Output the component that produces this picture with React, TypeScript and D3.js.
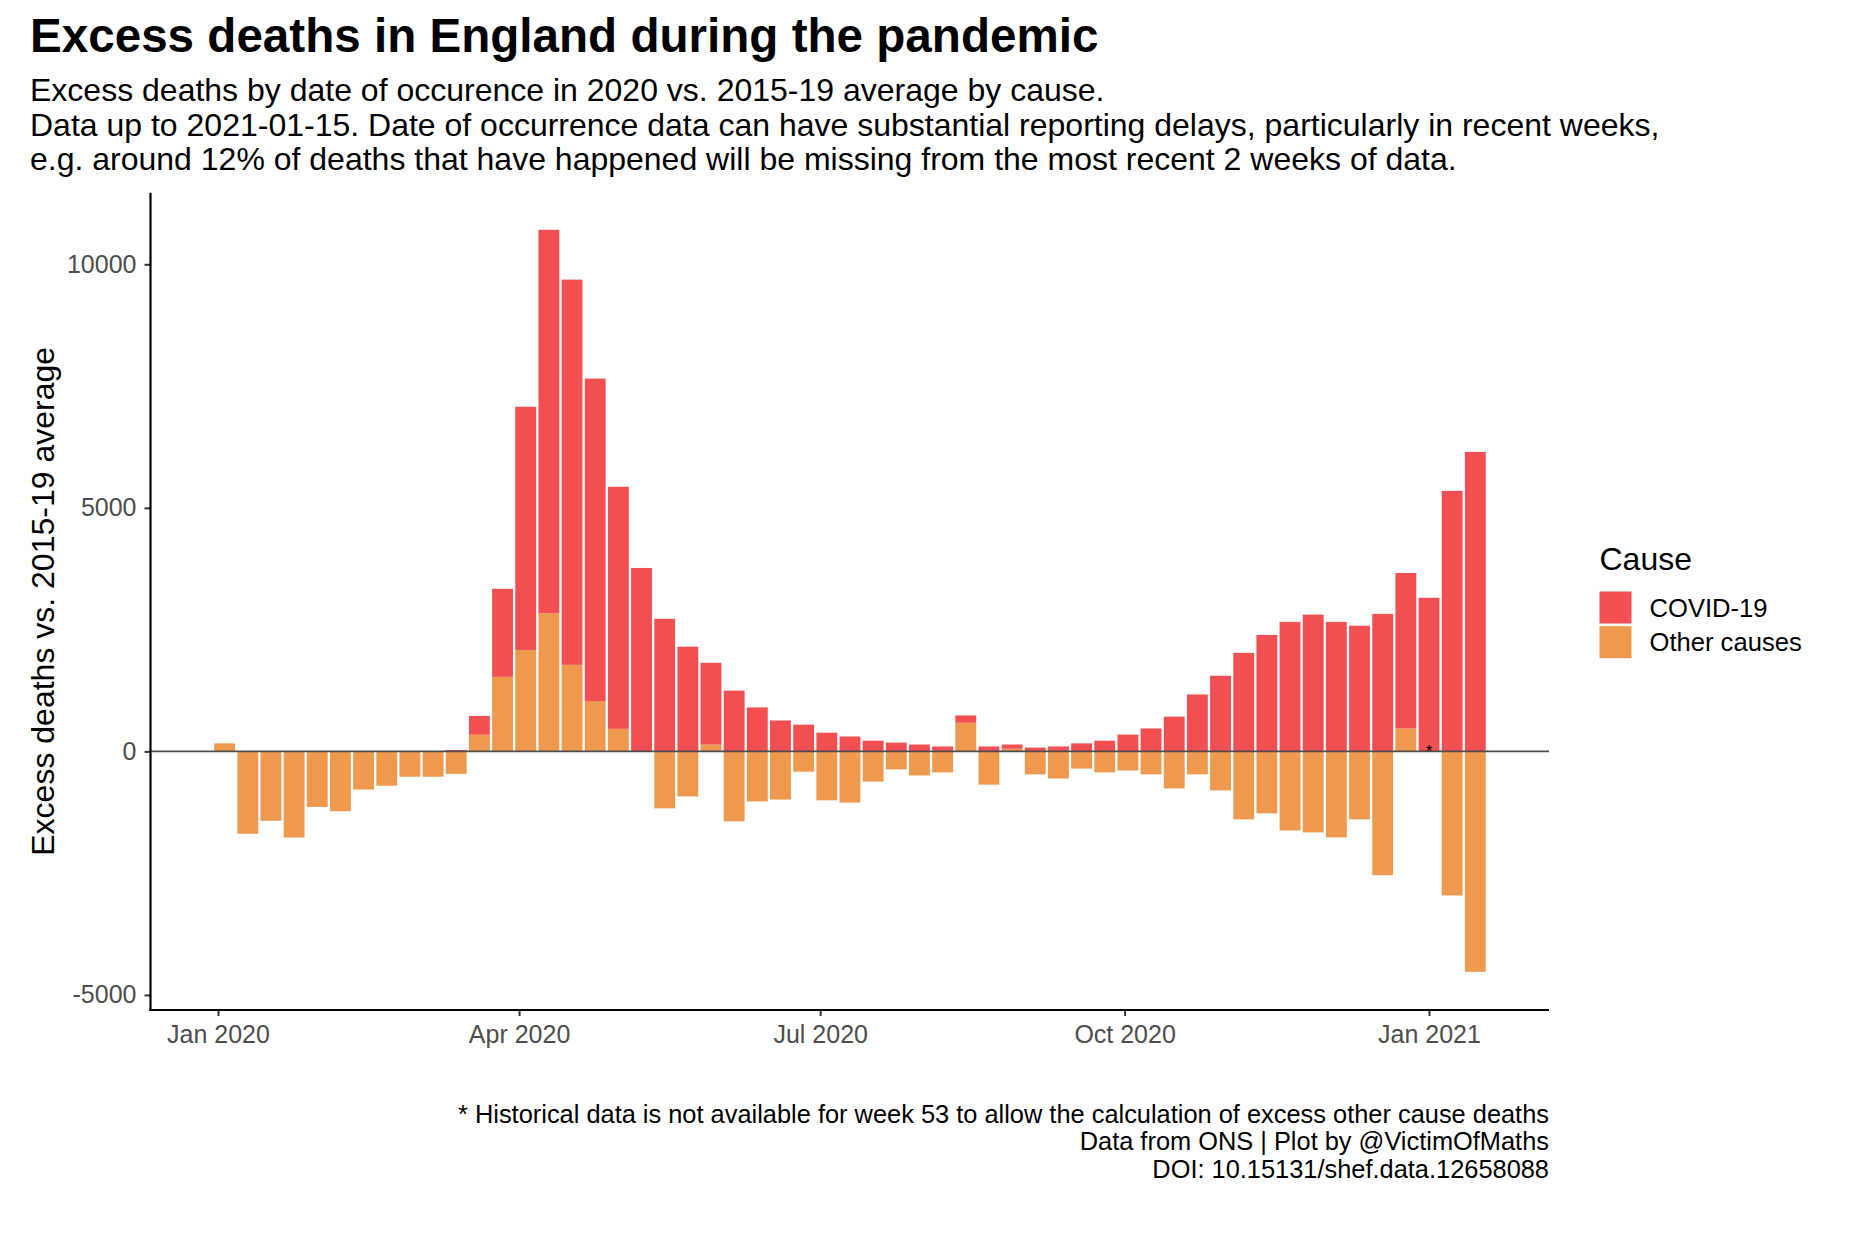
import { useEffect, useRef } from "react";
import * as d3 from "d3";

// excess deaths by week (week ending Fridays, first week ending 2020-01-03)
const causes = ["Other causes", "COVID-19"];
const otherCauses: (number | null)[] = [
  165, -1690, -1425, -1768, -1140, -1228, -783, -704, -520, -520, -460, 342,
  1530, 2083, 2838, 1777, 1035, 463, 0, -1169, -925, 141, -1435, -1027, -988,
  -416, -1004, -1051, -620, -369, -494, -431, 588, -682, 55, -471, -557, -353,
  -431, -392, -471, -761, -471, -800, -1396, -1271, -1624, -1663, -1765, -1396,
  -2541, 471, null, -2957, -4525,
];
const covid: number[] = [
  0, 0, 0, 0, 0, 0, 0, 0, 0, 0, 30, 385, 1808, 4992, 7870, 7909, 6619, 4970,
  3766, 2722, 2149, 1679, 1247, 902, 635, 549, 384, 306, 220, 180, 141, 102,
  149, 102, 86, 78, 102, 165, 220, 345, 471, 714, 1169, 1553, 2024, 2392, 2659,
  2808, 2659, 2580, 2824, 3192, 3153, 5349, 6149,
];
const firstWeekEnd = "2020-01-03";
const yTicks = [-5000, 0, 5000, 10000];
const xTickDates = ["2020-01-01", "2020-04-01", "2020-07-01", "2020-10-01", "2021-01-01"];

const titleText = "Excess deaths in England during the pandemic";
const subtitleLines = [
  "Excess deaths by date of occurence in 2020 vs. 2015-19 average by cause.",
  "Data up to 2021-01-15. Date of occurrence data can have substantial reporting delays, particularly in recent weeks,",
  "e.g. around 12% of deaths that have happened will be missing from the most recent 2 weeks of data.",
];
const captionLines = [
  "* Historical data is not available for week 53 to allow the calculation of excess other cause deaths",
  "Data from ONS | Plot by @VictimOfMaths",
  "DOI: 10.15131/shef.data.12658088",
];

const colours: Record<string, string> = {
  "COVID-19": "#f14f52",
  "Other causes": "#ef994e",
};

export default function App() {
  const svgRef = useRef<SVGSVGElement | null>(null);
  const width = 1876;
  const height = 1250;
  const panel = { left: 150.5, right: 1549, top: 192.7, bottom: 1010 };

  useEffect(() => {
    if (!svgRef.current) return;
    const svg = d3.select(svgRef.current);
    svg.selectAll("*").remove();
    const font = "'Liberation Sans', Arial, Helvetica, sans-serif";
    const parse = d3.timeParse("%Y-%m-%d");
    const start = parse(firstWeekEnd) as Date;

    const rows = covid.map((c, i) => ({
      date: d3.timeDay.offset(start, 7 * i),
      "COVID-19": c,
      "Other causes": otherCauses[i] ?? 0,
      missing: otherCauses[i] === null,
    }));

    // x: time scale, y: linear
    const x = d3
      .scaleTime()
      .domain([parse("2020-01-01") as Date, parse("2021-01-01") as Date])
      .range([218, 1429]);
    const y = d3
      .scaleLinear()
      .domain([-5309, 11470])
      .range([panel.bottom, panel.top]);
    const barW = (x(d3.timeDay.offset(start, 7)) - x(start)) * 0.9;

    const series = d3
      .stack<any>()
      .keys(causes)
      .offset(d3.stackOffsetDiverging)(rows);

    // bars
    svg
      .append("g")
      .selectAll("g")
      .data(series)
      .join("g")
      .attr("fill", (s) => colours[s.key])
      .selectAll("rect")
      .data((s) => s)
      .join("rect")
      .attr("x", (d) => x(d.data.date) - barW / 2)
      .attr("y", (d) => y(Math.max(d[0], d[1])))
      .attr("width", barW)
      .attr("height", (d) => Math.abs(y(d[0]) - y(d[1])));

    // zero line
    svg
      .append("line")
      .attr("x1", panel.left)
      .attr("x2", panel.right)
      .attr("y1", y(0))
      .attr("y2", y(0))
      .attr("stroke", "#4d4d4d")
      .attr("stroke-width", 1.8);

    // week 53 marker
    svg
      .append("g")
      .selectAll("text")
      .data(rows.filter((r) => r.missing))
      .join("text")
      .attr("x", (d) => x(d.date))
      .attr("y", y(0) + 6)
      .attr("text-anchor", "middle")
      .attr("font-family", font)
      .attr("font-size", 16)
      .text("*");

    // y axis
    const yAxis = svg
      .append("g")
      .attr("transform", `translate(${panel.left},0)`)
      .call(
        d3
          .axisLeft(y)
          .tickValues(yTicks)
          .tickFormat((d) => String(d))
          .tickSize(6)
          .tickPadding(8)
      );
    yAxis.select(".domain").remove();
    yAxis.selectAll(".tick line").attr("stroke", "#333333").attr("stroke-width", 2);
    yAxis
      .selectAll(".tick text")
      .attr("font-family", font)
      .attr("font-size", 25)
      .attr("fill", "#4d4d4d");
    svg
      .append("line")
      .attr("x1", panel.left)
      .attr("x2", panel.left)
      .attr("y1", panel.top)
      .attr("y2", panel.bottom + 1.1)
      .attr("stroke", "#000")
      .attr("stroke-width", 2.2);

    // x axis
    const xAxis = svg
      .append("g")
      .attr("transform", `translate(0,${panel.bottom})`)
      .call(
        d3
          .axisBottom(x)
          .tickValues(xTickDates.map((s) => parse(s) as Date))
          .tickFormat(d3.timeFormat("%b %Y") as any)
          .tickSize(6)
          .tickPadding(9)
      );
    xAxis.select(".domain").remove();
    xAxis.selectAll(".tick line").attr("stroke", "#333333").attr("stroke-width", 2);
    xAxis
      .selectAll(".tick text")
      .attr("font-family", font)
      .attr("font-size", 25)
      .attr("fill", "#4d4d4d");
    svg
      .append("line")
      .attr("x1", panel.left - 1.1)
      .attr("x2", panel.right)
      .attr("y1", panel.bottom)
      .attr("y2", panel.bottom)
      .attr("stroke", "#000")
      .attr("stroke-width", 2.2);

    // y axis title
    svg
      .append("text")
      .attr("transform", `translate(54,${(panel.top + panel.bottom) / 2}) rotate(-90)`)
      .attr("text-anchor", "middle")
      .attr("font-family", font)
      .attr("font-size", 32)
      .text("Excess deaths vs. 2015-19 average");

    // title + subtitle
    svg
      .append("text")
      .attr("x", 30)
      .attr("y", 51.5)
      .attr("font-family", font)
      .attr("font-weight", "bold")
      .attr("font-size", 47.6)
      .text(titleText);
    svg
      .append("g")
      .selectAll("text")
      .data(subtitleLines)
      .join("text")
      .attr("x", 30)
      .attr("y", (_, i) => 101 + i * 34.5)
      .attr("font-family", font)
      .attr("font-size", 32)
      .text((d) => d);

    // legend
    const legend = svg.append("g").attr("transform", "translate(1599.5,0)");
    legend
      .append("text")
      .attr("y", 569.5)
      .attr("font-family", font)
      .attr("font-size", 32)
      .text("Cause");
    const legendKeys = ["COVID-19", "Other causes"];
    const items = legend
      .selectAll("g.item")
      .data(legendKeys)
      .join("g")
      .attr("class", "item")
      .attr("transform", (_, i) => `translate(0,${591.5 + i * 34.7})`);
    items
      .append("rect")
      .attr("width", 32)
      .attr("height", 32)
      .attr("fill", (d) => colours[d]);
    items
      .append("text")
      .attr("x", 50)
      .attr("y", 25)
      .attr("font-family", font)
      .attr("font-size", 25.6)
      .text((d) => d);

    // caption
    svg
      .append("g")
      .selectAll("text")
      .data(captionLines)
      .join("text")
      .attr("x", panel.right)
      .attr("y", (_, i) => 1122.5 + i * 27.5)
      .attr("text-anchor", "end")
      .attr("font-family", font)
      .attr("font-size", 25.4)
      .text((d) => d);
  }, []);

  return (
    <svg
      ref={svgRef}
      width={width}
      height={height}
      style={{ position: "absolute", left: 0, top: 0, background: "#fff" }}
    />
  );
}
